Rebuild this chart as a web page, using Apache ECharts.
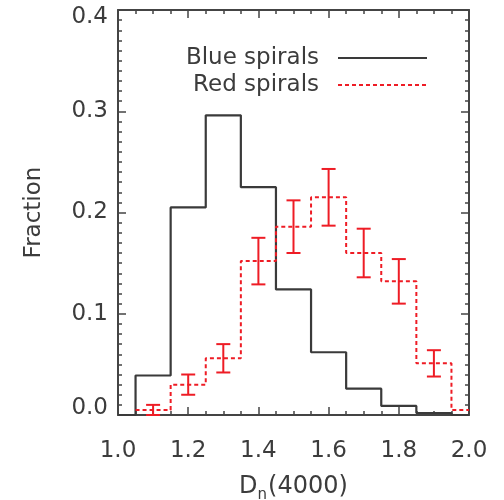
<!DOCTYPE html>
<html>
<head>
<meta charset="utf-8">
<script src="https://cdn.jsdelivr.net/npm/echarts@6/dist/echarts.min.js"></script>
<style>
  html, body { margin: 0; padding: 0; background: #fff; }
  #chart { width: 504px; height: 500px; }
</style>
</head>
<body>
<div id="chart"></div>
<script>
	// bin edges (left edge of each bin) and heights
	var blueEdges = [1.0, 1.05, 1.15, 1.25, 1.35, 1.45, 1.55, 1.65, 1.75, 1.85, 1.95, 2.0];
	var blueFrac  = [0, 0.039, 0.205, 0.296, 0.225, 0.124, 0.062, 0.026, 0.009, 0.002, 0, 0];

	var redEdges = [1.05, 1.15, 1.25, 1.35, 1.45, 1.55, 1.65, 1.75, 1.85, 1.95, 2.0];
	var redFrac  = [0.005, 0.030, 0.056, 0.152, 0.186, 0.215, 0.160, 0.132, 0.051, 0.005, 0.005];

	// error bars on the red bins
	var redCenters = [1.1, 1.2, 1.3, 1.4, 1.5, 1.6, 1.7, 1.8, 1.9];
	var redValues  = [0.005, 0.030, 0.056, 0.152, 0.186, 0.215, 0.160, 0.132, 0.051];
	var redErr     = [0.005, 0.010, 0.014, 0.023, 0.026, 0.028, 0.024, 0.022, 0.013];

	var xTicks = [1.0, 1.2, 1.4, 1.6, 1.8, 2.0];
	var yTicks = [0.0, 0.1, 0.2, 0.3, 0.4];

	var font = 'DejaVu Sans';
	var ink = '#3c3c3c';
	var red = '#ee1c25';

	var blueData = [], redData = [], errData = [];
	for (var i = 0; i < blueEdges.length; i++) blueData.push([blueEdges[i], blueFrac[i]]);
	for (var i = 0; i < redEdges.length; i++) redData.push([redEdges[i], redFrac[i]]);
	for (var i = 0; i < redCenters.length; i++) errData.push([redCenters[i], redValues[i], redErr[i]]);

	function frameAxis(pos, isX, showLabel) {
		var ax = {
			type: 'value',
			position: pos,
			min: isX ? xTicks[0] : yTicks[0],
			max: isX ? xTicks[xTicks.length - 1] : yTicks[yTicks.length - 1],
			interval: isX ? 0.2 : 0.1,
			axisLine: { show: true, onZero: false, lineStyle: { color: '#444', width: 2 } },
			axisTick: { show: true, inside: true, length: 8, lineStyle: { color: '#444', width: 1.5 } },
			minorTick: { show: true, splitNumber: isX ? 4 : 10, length: 4, lineStyle: { color: '#444', width: 1.5 } },
			splitLine: { show: false },
			axisLabel: {
				show: showLabel,
				fontFamily: font, fontSize: 23, color: ink,
				margin: isX ? 25 : 10,
				formatter: function (v) { return v.toFixed(1); }
			}
		};
		if (!isX) {
			ax.axisLabel.lineHeight = 14;
			ax.axisLabel.verticalAlignMinLabel = 'bottom';
			ax.axisLabel.verticalAlignMaxLabel = 'top';
		}
		return ax;
	}

	var myChart = echarts.init(document.getElementById('chart'));
	var xMain = frameAxis('bottom', true, true);
	xMain.name = '{a|D}{b|n}{a|(4000)}';
	xMain.nameLocation = 'middle';
	xMain.nameGap = 59;
	xMain.nameTextStyle = {
		color: ink,
		rich: {
			a: { fontFamily: font, fontSize: 24, color: ink, lineHeight: 26, verticalAlign: 'middle' },
			b: { fontFamily: font, fontSize: 15, color: ink, lineHeight: 15, verticalAlign: 'middle', padding: [17, 1, 0, 0] }
		}
	};
	var yMain = frameAxis('left', false, true);
	yMain.name = 'Fraction';
	yMain.nameLocation = 'middle';
	yMain.nameGap = 72;
	yMain.nameTextStyle = { fontFamily: font, fontSize: 23, color: ink };

	option = {
		animation: false,
		backgroundColor: '#fff',
		grid: { left: 118, right: 35, top: 10, bottom: 85, containLabel: false, outerBoundsMode: 'none' },
		legend: {
			data: ['Blue spirals', 'Red spirals'],
			orient: 'vertical',
			align: 'right',
			right: 71,
			top: 41,
			itemWidth: 89,
			itemHeight: 14,
			itemGap: 3,
			itemStyle: { opacity: 0 },
			textStyle: { fontFamily: font, fontSize: 23, color: ink, lineHeight: 24, padding: [0, 14, 0, 0] }
		},
		xAxis: [xMain, frameAxis('top', true, false)],
		yAxis: [yMain, frameAxis('right', false, false)],
		series: [
			{
				name: 'Blue spirals',
				type: 'line',
				step: 'end',
				symbol: 'none',
				data: blueData,
				lineStyle: { color: '#3a3a3a', width: 2.2 },
				itemStyle: { color: '#3a3a3a' }
			},
			{
				name: 'Red spirals',
				type: 'line',
				step: 'end',
				symbol: 'none',
				data: redData,
				lineStyle: { color: red, width: 2, type: [4, 3] },
				itemStyle: { color: red }
			},
			{
				name: 'err',
				type: 'custom',
				data: errData,
				renderItem: function (params, api) {
					var x = api.value(0), v = api.value(1), e = api.value(2);
					var top = api.coord([x, v + e]);
					var bot = api.coord([x, v - e]);
					var cap = 7;
					var st = { stroke: red, lineWidth: 2 };
					return {
						type: 'group',
						children: [
							{ type: 'line', shape: { x1: top[0], y1: top[1], x2: bot[0], y2: bot[1] }, style: st },
							{ type: 'line', shape: { x1: top[0] - cap, y1: top[1], x2: top[0] + cap, y2: top[1] }, style: st },
							{ type: 'line', shape: { x1: bot[0] - cap, y1: bot[1], x2: bot[0] + cap, y2: bot[1] }, style: st }
						]
					};
				},
				z: 5
			}
		]
	};

	myChart.setOption(option);
</script>
</body>
</html>
